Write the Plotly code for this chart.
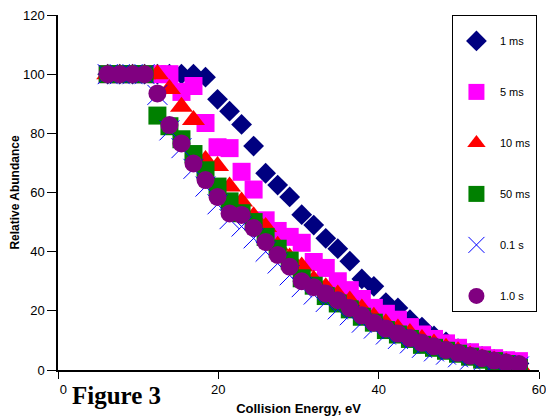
import plotly.graph_objects as go

# Collision energy (eV) grid
energy = [6.2, 7.7, 9.3, 10.8, 12.4, 13.9, 15.4, 16.9, 18.4, 19.9, 21.4, 22.9,
          24.4, 25.9, 27.4, 28.9, 30.4, 31.9, 33.4, 34.9, 36.4, 37.9, 39.4,
          40.9, 42.4, 43.9, 45.4, 46.9, 48.4, 49.9, 51.4, 52.9, 54.4, 55.9, 57.5]

ms1 = [100, 100, 100, 100, 100, 100, 100, 100, 99, 91.5, 87.5, 83, 75.7, 66.5,
       62.5, 58.5, 52.5, 49, 44.5, 41, 36.8, 30.8, 28.3, 22.8, 21, 17, 14.5,
       11.5, 9.5, 7.2, 5.6, 4.6, 3.6, 2.8, 2.2]
ms5 = [100, 100, 100, 100, 100, 100, 94, 96, 83.5, 75.3, 75, 67, 61, 50.6,
       47, 45, 43, 36.5, 34.5, 30, 27, 24, 21, 19, 17, 14.5, 12, 10.5, 9, 7.5,
       6, 5, 4, 3.3, 3]
ms10 = [100, 100, 100, 100, 100, 95, 89, 84.5, 71, 69, 62, 57, 52, 48.3, 42,
        38, 35, 30.5, 28, 25.5, 23.5, 20.8, 18, 15.8, 14, 12.5, 10.5, 9, 7.5,
        6.3, 5, 4, 3.2, 2.5, 1.5]
ms50 = [100, 100, 100, 100, 86, 82.4, 78, 73, 67.5, 62, 57, 53, 50, 45, 41,
        37, 31, 28.5, 25, 22.5, 20.5, 18, 16, 13.5, 12, 10.5, 8.5, 7.5, 6.5,
        5.5, 4.5, 3.5, 3, 2, 0.7]
s01 = [100, 100, 100, 100, 93, 81, 75, 68, 62, 56, 51, 48.5, 44.5, 40, 36,
       32, 28, 25.5, 23, 20.5, 18.5, 16, 14, 12, 10.5, 9, 7.5, 6.3, 5.2, 4.3,
       3.5, 2.8, 2.2, 1.7, 1.2]
s10 = [100, 100, 100, 100, 93.5, 82.8, 76.6, 69.8, 64.2, 58.5, 52.9, 52.4,
       48, 43.3, 38.9, 34.9, 30, 28, 25.9, 23.6, 21, 18.5, 16, 14, 12.3, 10.8,
       9.2, 8, 6.8, 5.8, 4.8, 4, 3.2, 2.5, 2]

series = [
    ("1 ms", ms1, "diamond", 16, "#000080"),
    ("5 ms", ms5, "square", 18, "#FF00FF"),
    ("10 ms", ms10, "triangle-up", 20, "#FF0000"),
    ("50 ms", ms50, "square", 18, "#008000"),
    ("0.1 s", s01, "x-thin", 20, "#0000FF"),
    ("1.0 s", s10, "circle", 18, "#800080"),
]

x_ticks = [0, 20, 40, 60]
x_tick_text = ["\u00a0\u00a0\u00a00", "20", "40", "60"]
y_ticks = [0, 20, 40, 60, 80, 100, 120]

fig = go.Figure()
for i, (name, vals, sym, size, col) in enumerate(series):
    if sym == "x-thin":
        marker = dict(symbol=sym, size=size, color=col, line=dict(color=col, width=1))
    else:
        marker = dict(symbol=sym, size=size, color=col, line=dict(width=0))
    fig.add_trace(go.Scatter(x=energy, y=vals, mode="markers", name=name,
                             legendgroup=f"g{i}", marker=marker))

font_family = "Arial, Liberation Sans, sans-serif"
fig.update_layout(
    width=546, height=416,
    margin=dict(l=58, r=7, t=15, b=46),
    paper_bgcolor="white", plot_bgcolor="white",
    font=dict(family=font_family, color="black", size=13),
    showlegend=True,
    legend=dict(
        x=0.819, y=1.0, xanchor="left", yanchor="top",
        bgcolor="white", bordercolor="black", borderwidth=1,
        font=dict(family=font_family, size=11, color="black"),
        tracegroupgap=32, itemwidth=37,
        title=dict(text=" ", font=dict(size=8)),
    ),
    xaxis=dict(
        range=[0, 60], tickvals=x_ticks, ticktext=x_tick_text,
        showgrid=False, zeroline=False, showline=True, linecolor="black",
        linewidth=1.5, ticks="outside", ticklen=7, tickwidth=1, tickcolor="black",
        tickfont=dict(size=13), automargin=False, ticklabeloverflow="allow",
        title=dict(text="<b>Collision Energy, eV</b>", font=dict(size=13), standoff=14),
    ),
    yaxis=dict(
        range=[0, 120], tickvals=y_ticks,
        showgrid=False, zeroline=False, showline=True, linecolor="black",
        linewidth=1.5, ticks="outside", ticklen=9, tickwidth=1, tickcolor="black",
        tickfont=dict(size=13), automargin=False,
        title=dict(text="<b>Relative Abundance</b>", font=dict(size=12), standoff=1),
    ),
)

fig.add_annotation(
    text="<b>Figure 3</b>", xref="paper", yref="paper",
    x=0.025, y=-0.071, xanchor="left", yanchor="middle", showarrow=False,
    font=dict(family="Times New Roman, Liberation Serif, serif", size=25, color="black"),
)

fig.write_html("out.html")
